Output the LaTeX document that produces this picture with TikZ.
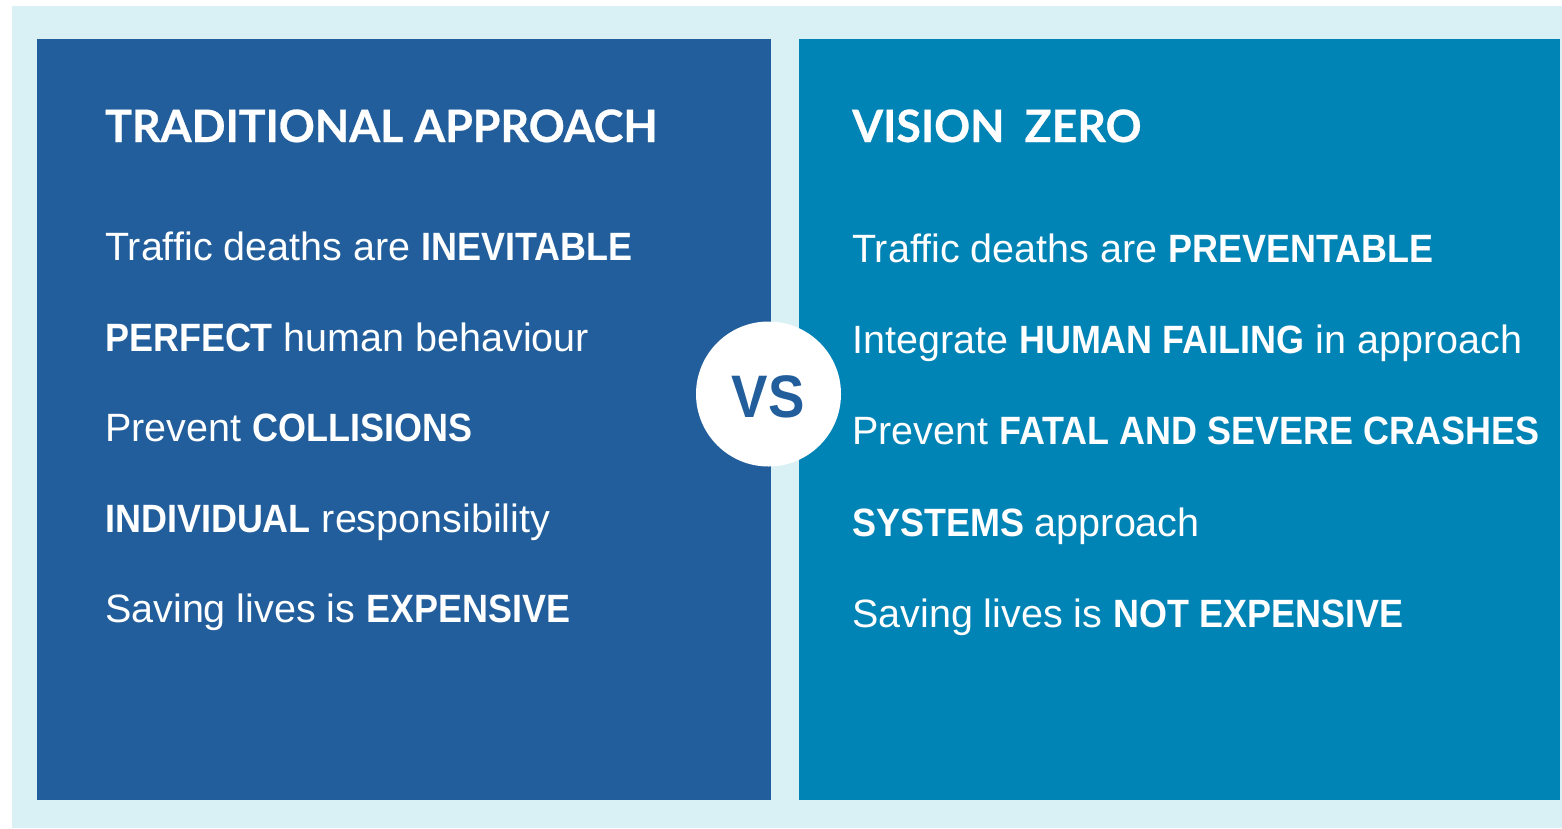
\documentclass[tikz,border=0pt]{standalone}
\usepackage{fontspec}
\setmainfont{Liberation Sans}[BoldFeatures={FakeStretch=0.91}]
\newfontfamily\titlefont{Lato}[BoldFeatures={FakeBold=0.6}]
\definecolor{pale}{RGB}{217,240,245}
\definecolor{tradblue}{RGB}{33,94,155}
\definecolor{visionblue}{RGB}{0,131,181}
\tikzset{
  heading/.style={anchor=base west, text=white, inner sep=0pt, font=\titlefont\bfseries\fontsize{44.6}{46}\selectfont},
  item/.style={anchor=base west, text=white, inner sep=0pt, font=\fontsize{39.5}{41}\selectfont}
}
\begin{document}
\begin{tikzpicture}[x=1pt,y=-1pt]
        \useasboundingbox (0,0) rectangle (1562,828);
        \fill[white] (0,0) rectangle (1562,828);
        \fill[pale] (12,6) rectangle (1562,828);
        \fill[tradblue] (37,39) rectangle (771,800);
        \fill[visionblue] (799,39) rectangle (1560,800);
        \node[heading] (ltitle) at (105,142) {TRADITIONAL APPROACH};
        \node[heading] (rtitle) at (852,142) {VISION\hspace{0.45em}ZERO};
        \foreach \n/\txt in {1/Traffic deaths are \textbf{INEVITABLE},
                2/\textbf{PERFECT} human behaviour,
                3/Prevent \textbf{COLLISIONS},
                4/\textbf{INDIVIDUAL} responsibility,
                5/Saving lives is \textbf{EXPENSIVE}}
        {
                \node[item] (l\n) at (105, 170+90.5*\n) {\txt};
        }
        \foreach \n/\txt in {1/Traffic deaths are \textbf{PREVENTABLE},
                2/Integrate \textbf{HUMAN FAILING} in approach,
                3/Prevent \textbf{FATAL AND SEVERE CRASHES},
                4/\textbf{SYSTEMS} approach,
                5/Saving lives is \textbf{NOT EXPENSIVE}}
        {
                \node[item] (r\n) at (852, 171+91.25*\n) {\txt};
        }
        \node[circle, fill=white, minimum size=145pt, inner sep=0pt] (vs) at (768.5,394) {};
        \node[text=tradblue, font=\bfseries\fontsize{60}{60}\selectfont] (vstext) at (768,397) {VS};
\end{tikzpicture}
\end{document}
